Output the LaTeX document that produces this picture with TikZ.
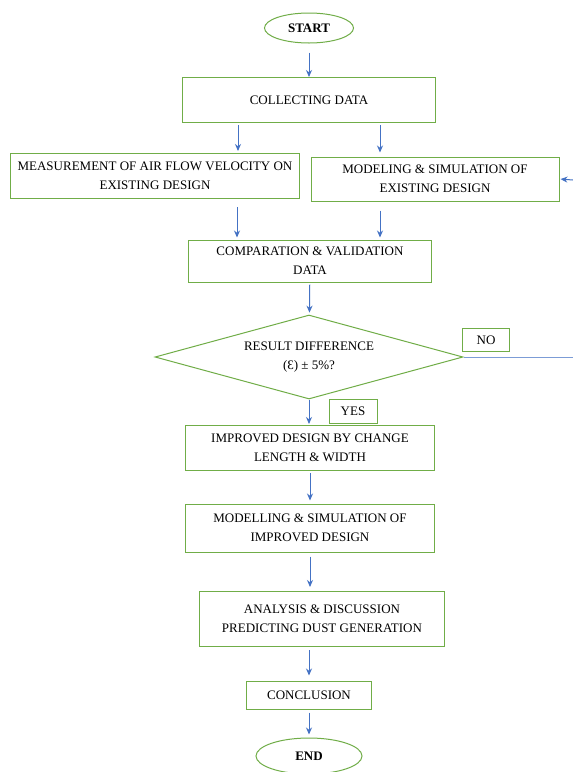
\documentclass[tikz,border=0pt]{standalone}
\usepackage{fontspec}
\setmainfont{Liberation Serif}
\usepackage{tikz}
\usetikzlibrary{shapes.geometric,arrows.meta}
\usepackage{xcolor}
\definecolor{boxgreen}{RGB}{112,173,71}
\definecolor{arrowblue}{RGB}{68,114,196}

\begin{document}
\begin{tikzpicture}[x=1pt,y=-1pt,
  font=\fontsize{13}{19}\selectfont,
  block/.style={draw=boxgreen,line width=1pt,rectangle,inner sep=0pt,align=center},
  terminal/.style={draw=boxgreen,line width=1pt,ellipse,inner sep=0pt,font=\fontsize{13}{19}\selectfont\bfseries},
  decision/.style={draw=boxgreen,line width=1pt,diamond,aspect=3.67,inner sep=0pt,align=center,
    minimum width=308pt,minimum height=84pt},
  flow/.style={draw=arrowblue,line width=1pt,-{Stealth[length=7pt,width=6pt]}}]
  \useasboundingbox (0,0) rectangle (573,772);
  \fill[white] (0,0) rectangle (573,772);

  \node[terminal,minimum width=89pt,minimum height=30pt] (start) at (309,28) {START};
  \node[block,minimum width=253pt,minimum height=45pt] (collect) at (309,100) {COLLECTING DATA};
  \node[block,minimum width=289pt,minimum height=45pt] (meas) at (155,176)
    {MEASUREMENT OF AIR FLOW VELOCITY ON\\EXISTING DESIGN};
  \node[block,minimum width=248pt,minimum height=44pt] (model) at (435,179)
    {MODELING \& SIMULATION OF\\EXISTING DESIGN};
  \node[block,minimum width=243pt,minimum height=42pt] (compare) at (310,261)
    {COMPARATION \& VALIDATION\\DATA};
  \node[decision] (diff) at (309,357) {RESULT DIFFERENCE\\(Ɛ) ± 5\%?};
  \node[block,minimum width=47pt,minimum height=23pt] (no) at (486,340) {NO};
  \node[block,minimum width=48pt,minimum height=24pt] (yes) at (353,411) {YES};
  \node[block,minimum width=249pt,minimum height=45pt] (improve) at (310,448)
    {IMPROVED DESIGN BY CHANGE\\LENGTH \& WIDTH};
  \node[block,minimum width=249pt,minimum height=48pt] (modimp) at (310,528)
    {MODELLING \& SIMULATION OF\\IMPROVED DESIGN};
  \node[block,minimum width=245pt,minimum height=55pt] (analysis) at (322,619)
    {ANALYSIS \& DISCUSSION\\PREDICTING DUST GENERATION};
  \node[block,minimum width=125pt,minimum height=28pt] (concl) at (309,695) {CONCLUSION};
  \node[terminal,minimum width=106pt,minimum height=36pt] (end) at (309,756) {END};

  \coordinate (noend) at (573,357);
  \coordinate (back) at (573,180);

  \draw[flow,shorten <=9pt] (start) -- (collect);
  \draw[flow,shorten <=2pt,shorten >=2pt] ([xshift=-71pt]collect.south) -- ([xshift=-71pt]collect.south |- meas.north);
  \draw[flow,shorten <=2pt,shorten >=4pt] ([xshift=71pt]collect.south) -- ([xshift=71pt]collect.south |- model.north);
  \draw[flow,shorten <=8pt,shorten >=2pt] ([xshift=82pt]meas.south) -- ([xshift=82pt]meas.south |- compare.north);
  \draw[flow,shorten <=9pt,shorten >=2pt] ([xshift=-55pt]model.south) -- ([xshift=-55pt]model.south |- compare.north);
  \draw[flow,shorten <=2pt,shorten >=2pt] (compare) -- (diff);
  \draw[flow,shorten >=1pt] (diff.south) -- (improve.north -| diff.south);
  \draw[draw=arrowblue!70,line width=1pt] (diff.east) -- (noend);
  \draw[flow,shorten >=1pt] (back) -- (model.east);
  \draw[flow,shorten <=2pt,shorten >=3pt] (improve) -- (modimp);
  \draw[flow,shorten <=4pt,shorten >=4pt] (modimp.south) -- (modimp.south |- analysis.north);
  \draw[flow,shorten <=3pt,shorten >=5pt] (analysis.south -| concl.north) -- (concl.north);
  \draw[flow,shorten <=3pt,shorten >=3pt] (concl) -- (end);
\end{tikzpicture}
\end{document}
